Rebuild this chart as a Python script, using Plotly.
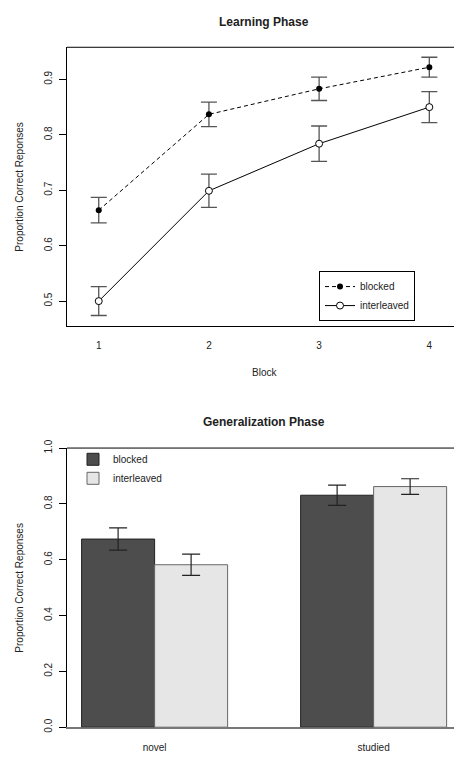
import plotly.graph_objects as go

# ---- data: learning phase ----
blocks = [1, 2, 3, 4]
learn_blocked = [0.664, 0.837, 0.883, 0.922]
learn_blocked_se = [0.023, 0.022, 0.021, 0.018]
learn_interleaved = [0.500, 0.699, 0.784, 0.850]
learn_interleaved_se = [0.026, 0.030, 0.032, 0.028]

# ---- data: generalization phase ----
gen_categories = ["novel", "studied"]
gen_blocked = [0.674, 0.831]
gen_blocked_se = [0.040, 0.036]
gen_interleaved = [0.582, 0.862]
gen_interleaved_se = [0.038, 0.028]

learn_yticks = [0.5, 0.6, 0.7, 0.8, 0.9]
gen_yticks = [0.0, 0.2, 0.4, 0.6, 0.8, 1.0]

W, H = 454, 759
L = 67
FONT = "Liberation Sans, Arial, Helvetica, sans-serif"

def px_x(p):
    return (p - L) / (W - L)

def px_y(p):
    return 1 - p / H

fig = go.Figure()

# top panel traces
fig.add_trace(go.Scatter(
    x=blocks, y=learn_blocked, name="blocked", mode="lines+markers",
    line=dict(color="black", width=1, dash="4px,3px"),
    marker=dict(color="black", size=6, symbol="circle"),
    error_y=dict(type="data", array=learn_blocked_se, color="#555555", thickness=1.3, width=8),
    xaxis="x", yaxis="y", legend="legend"))
fig.add_trace(go.Scatter(
    x=blocks, y=learn_interleaved, name="interleaved", mode="lines+markers",
    line=dict(color="black", width=1),
    marker=dict(color="white", size=7, symbol="circle", line=dict(color="black", width=1)),
    error_y=dict(type="data", array=learn_interleaved_se, color="#555555", thickness=1.3, width=8),
    xaxis="x", yaxis="y", legend="legend"))

# bottom panel traces
fig.add_trace(go.Bar(
    x=gen_categories, y=gen_blocked, name="blocked",
    marker=dict(color="#4d4d4d", line=dict(color="#222222", width=1)),
    error_y=dict(type="data", array=gen_blocked_se, color="#222222", thickness=1.2, width=9),
    xaxis="x2", yaxis="y2", legend="legend2"))
fig.add_trace(go.Bar(
    x=gen_categories, y=gen_interleaved, name="interleaved",
    marker=dict(color="#e6e6e6", line=dict(color="#666666", width=1)),
    error_y=dict(type="data", array=gen_interleaved_se, color="#222222", thickness=1.2, width=9),
    xaxis="x2", yaxis="y2", legend="legend2"))

top_dom = [px_y(323), px_y(39)]
bot_dom = [px_y(731.7), px_y(447.3)]

axis_font = dict(family=FONT, size=10, color="#222222")

fig.update_layout(
    width=W, height=H,
    margin=dict(l=L, r=0, t=0, b=0),
    paper_bgcolor="white", plot_bgcolor="white",
    font=dict(family=FONT, size=10, color="#222222"),
    barmode="group", bargap=1/3, bargroupgap=0,
    xaxis=dict(domain=[0, 1], anchor="y", range=[0.712, 4.224],
               tickvals=blocks, ticktext=[str(b) for b in blocks],
               ticks="", showgrid=False, zeroline=False,
               showline=True, linecolor="black", linewidth=1,
               tickfont=axis_font, ticklabelstandoff=10),
    yaxis=dict(domain=top_dom, anchor="x", range=[0.455, 0.958],
               tickvals=learn_yticks, tickformat=".1f", tickangle=-90,
               ticks="outside", ticklen=7, tickcolor="black", tickwidth=1,
               showgrid=False, zeroline=False,
               showline=True, linecolor="black", linewidth=1,
               tickfont=axis_font, ticklabelstandoff=3),
    xaxis2=dict(domain=[0, 1], anchor="y2", range=[-0.4, 1.367],
                ticks="", showgrid=False, zeroline=False,
                showline=True, linecolor="#777777", linewidth=2,
                layer="below traces",
                tickfont=axis_font, ticklabelstandoff=10),
    yaxis2=dict(domain=bot_dom, anchor="x2", range=[0, 1.0],
                tickvals=gen_yticks, tickformat=".1f", tickangle=-90,
                ticks="outside", ticklen=7, tickcolor="black", tickwidth=1,
                showgrid=False, zeroline=False,
                showline=True, linecolor="black", linewidth=1,
                tickfont=axis_font, ticklabelstandoff=3),
    legend=dict(x=px_x(319), y=px_y(267), xanchor="left", yanchor="top",
                bordercolor="black", borderwidth=1, bgcolor="white",
                font=dict(family=FONT, size=10, color="#222222"),
                tracegroupgap=0, itemwidth=30),
    legend2=dict(x=px_x(73), y=px_y(444), xanchor="left", yanchor="top",
                 borderwidth=0, bgcolor="rgba(0,0,0,0)",
                 font=dict(family=FONT, size=10, color="#222222"),
                 tracegroupgap=0, itemwidth=30),
    showlegend=True,
)

# top border lines of each panel
fig.add_shape(type="line", xref="x domain", yref="y domain", x0=0, x1=1, y0=1, y1=1,
              line=dict(color="black", width=1))
fig.add_shape(type="line", xref="x2 domain", yref="y2 domain", x0=0, x1=1, y0=1, y1=1,
              line=dict(color="black", width=1))

# titles and axis labels
ann = []
ann.append(dict(text="<b>Learning Phase</b>", x=px_x(264), y=px_y(13), font=dict(size=12)))
ann.append(dict(text="Block", x=px_x(264), y=px_y(370.7), font=dict(size=10)))
ann.append(dict(text="Proportion Correct Reponses", x=px_x(20), y=px_y(181), textangle=-90, font=dict(size=10)))
ann.append(dict(text="<b>Generalization Phase</b>", x=px_x(264), y=px_y(420.7), font=dict(size=12)))
ann.append(dict(text="Proportion Correct Reponses", x=px_x(20), y=px_y(589.5), textangle=-90, font=dict(size=10)))
for a in ann:
    a.update(xref="paper", yref="paper", showarrow=False, xanchor="center", yanchor="middle")
    a["font"].update(family=FONT, color="#222222")
    fig.add_annotation(**a)

fig.write_html("out.html", config={"displayModeBar": False},
               post_script="document.body.style.margin='0px';")
